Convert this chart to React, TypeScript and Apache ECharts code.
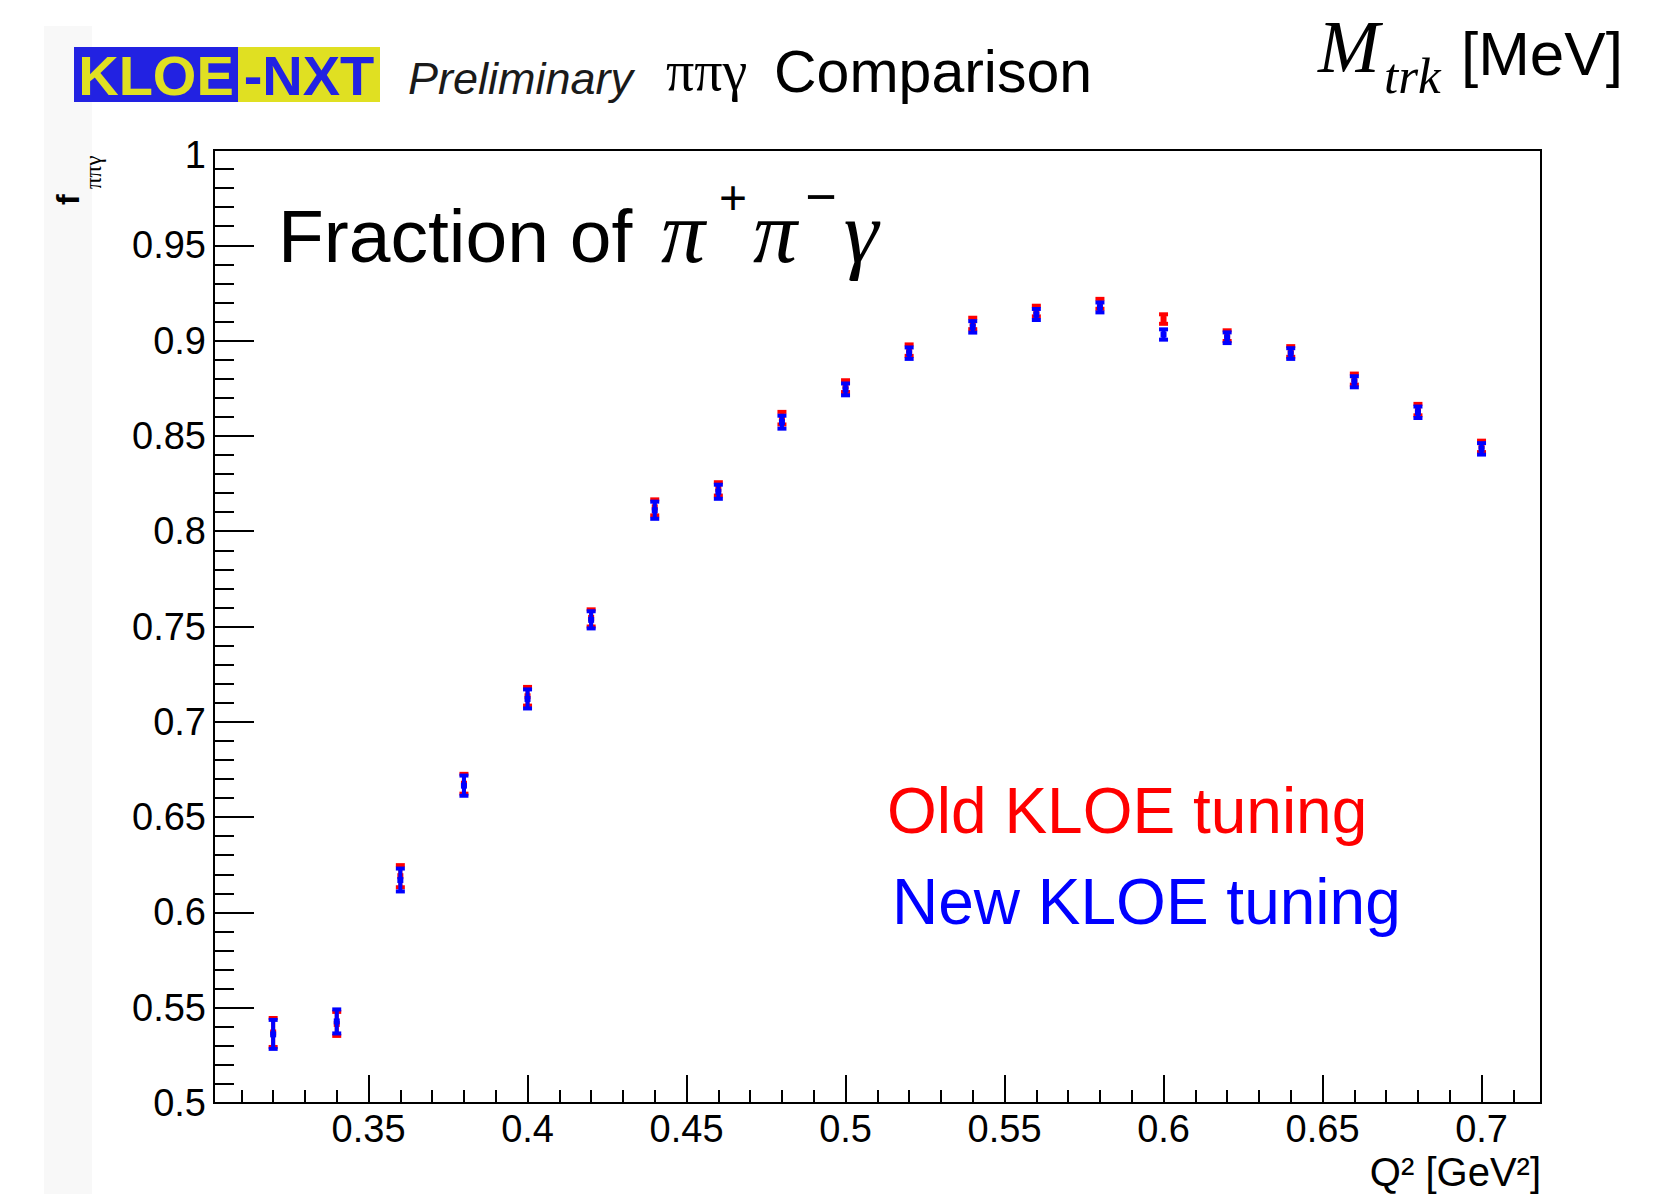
import React, { useEffect, useRef } from "react";
import * as echarts from "echarts";

// ---- data ----
const q2 = [0.32, 0.34, 0.36, 0.38, 0.40, 0.42, 0.44, 0.46, 0.48, 0.50, 0.52, 0.54, 0.56, 0.58, 0.60, 0.62, 0.64, 0.66, 0.68, 0.70];
const oldTuning = [0.537, 0.5415, 0.619, 0.6675, 0.7134, 0.7545, 0.8125, 0.8222, 0.8593, 0.8761, 0.8950, 0.9090, 0.9155, 0.9193, 0.9113, 0.9026, 0.8943, 0.8798, 0.8638, 0.8445];
const oldErr = [0.0076, 0.0063, 0.0058, 0.0052, 0.0049, 0.0045, 0.0042, 0.0035, 0.0033, 0.0031, 0.0030, 0.0030, 0.0028, 0.0026, 0.0025, 0.0028, 0.0028, 0.0029, 0.0030, 0.0030];
const newTuning = [0.536, 0.5428, 0.617, 0.6665, 0.712, 0.7535, 0.811, 0.8207, 0.8572, 0.8744, 0.8934, 0.9072, 0.9137, 0.9174, 0.9032, 0.9015, 0.8932, 0.8784, 0.8624, 0.8432];
const newErr = [0.0076, 0.0063, 0.0060, 0.0053, 0.0050, 0.0045, 0.0045, 0.0037, 0.0034, 0.0031, 0.0030, 0.0030, 0.0029, 0.0026, 0.0027, 0.0028, 0.0028, 0.0029, 0.0030, 0.0030];

const xTicks = [0.35, 0.40, 0.45, 0.50, 0.55, 0.60, 0.65, 0.70];
const xTickLabels = ["0.35", "0.4", "0.45", "0.5", "0.55", "0.6", "0.65", "0.7"];
const xMinorTicks = [0.31, 0.32, 0.33, 0.34, 0.36, 0.37, 0.38, 0.39, 0.41, 0.42, 0.43, 0.44, 0.46, 0.47, 0.48, 0.49, 0.51, 0.52, 0.53, 0.54, 0.56, 0.57, 0.58, 0.59, 0.61, 0.62, 0.63, 0.64, 0.66, 0.67, 0.68, 0.69, 0.71];
const yTicks = [0.5, 0.55, 0.6, 0.65, 0.7, 0.75, 0.8, 0.85, 0.9, 0.95, 1.0];
const yTickLabels = ["0.5", "0.55", "0.6", "0.65", "0.7", "0.75", "0.8", "0.85", "0.9", "0.95", "1"];
const yMinorTicks = [0.51, 0.52, 0.53, 0.54, 0.56, 0.57, 0.58, 0.59, 0.61, 0.62, 0.63, 0.64, 0.66, 0.67, 0.68, 0.69, 0.71, 0.72, 0.73, 0.74, 0.76, 0.77, 0.78, 0.79, 0.81, 0.82, 0.83, 0.84, 0.86, 0.87, 0.88, 0.89, 0.91, 0.92, 0.93, 0.94, 0.96, 0.97, 0.98, 0.99];

const X_MIN = 0.3014;
const X_MAX = 0.7187;
const Y_MIN = 0.5;
const Y_MAX = 1.0;

const SANS = "'Liberation Sans', Arial, Helvetica, sans-serif";
const SERIF = "'Liberation Serif', 'Times New Roman', serif";

function labelFor(ticks: number[], labels: string[], v: number): string {
  const i = ticks.findIndex((t) => Math.abs(t - v) < 1e-7);
  return i >= 0 ? labels[i] : "";
}

function errRenderer(color: string) {
  return (params: any, api: any) => {
    const x = api.value(0);
    const y = api.value(1);
    const e = api.value(2);
    const c = api.coord([x, y]);
    const top = api.coord([x, y + e]);
    const bot = api.coord([x, y - e]);
    const capW = 9;
    const capH = 4;
    const barW = 4;
    const ms = 6;
    return {
      type: "group",
      children: [
        { type: "rect", shape: { x: c[0] - barW / 2, y: top[1], width: barW, height: bot[1] - top[1] }, style: { fill: color } },
        { type: "rect", shape: { x: c[0] - capW / 2, y: top[1] - capH / 2, width: capW, height: capH }, style: { fill: color } },
        { type: "rect", shape: { x: c[0] - capW / 2, y: bot[1] - capH / 2, width: capW, height: capH }, style: { fill: color } },
        { type: "rect", shape: { x: c[0] - ms / 2, y: c[1] - ms / 2, width: ms, height: ms }, style: { fill: color } },
      ],
    };
  };
}

function txt(x: number, y: number, text: string, font: string, fill: string, align = "left", extra: any = {}) {
  return {
    type: "text",
    x,
    y,
    ...extra,
    style: { text, font, fill, align, textAlign: align, verticalAlign: "middle", textVerticalAlign: "middle" },
  };
}

export default function App() {
  const ref = useRef<HTMLDivElement>(null);

  useEffect(() => {
    if (!ref.current) return;
    const chart = echarts.init(ref.current, undefined, { renderer: "svg" });

    const axisLineStyle = { color: "#000", width: 2 };
    const tickLineStyle = { color: "#000", width: 2 };

    const option: any = {
      animation: false,
      backgroundColor: "#ffffff",
      grid: {
        left: 214,
        top: 150,
        width: 1327,
        height: 953,
        show: true,
        borderColor: "#000",
        borderWidth: 2,
        backgroundColor: "transparent",
        containLabel: false,
        outerBoundsMode: "none",
      },
      xAxis: [
        {
          type: "value",
          min: X_MIN,
          max: X_MAX,
          position: "bottom",
          axisLine: { show: true, onZero: false, lineStyle: axisLineStyle },
          axisTick: { show: true, inside: true, length: 28, customValues: xTicks, lineStyle: tickLineStyle },
          axisLabel: {
            show: true,
            customValues: xTicks,
            formatter: (v: number) => labelFor(xTicks, xTickLabels, v),
            fontSize: 38,
            fontFamily: SANS,
            color: "#000",
            margin: 7,
          },
          splitLine: { show: false },
        },
        {
          type: "value",
          min: X_MIN,
          max: X_MAX,
          position: "bottom",
          axisLine: { show: false, onZero: false },
          axisTick: { show: true, inside: true, length: 13, customValues: xMinorTicks, lineStyle: tickLineStyle },
          axisLabel: { show: false },
          splitLine: { show: false },
        },
      ],
      yAxis: [
        {
          type: "value",
          min: Y_MIN,
          max: Y_MAX,
          position: "left",
          axisLine: { show: true, onZero: false, lineStyle: axisLineStyle },
          axisTick: { show: true, inside: true, length: 40, customValues: yTicks, lineStyle: tickLineStyle },
          axisLabel: {
            show: true,
            customValues: yTicks,
            formatter: (v: number) => {
              const s = labelFor(yTicks, yTickLabels, v);
              return Math.abs(v - Y_MAX) < 1e-7 ? `{low|${s}}` : s;
            },
            rich: {
              low: { fontSize: 38, fontFamily: SANS, color: "#000", padding: [9, 0, 0, 0] },
            },
            fontSize: 38,
            fontFamily: SANS,
            color: "#000",
            margin: 8,
          },
          splitLine: { show: false },
        },
        {
          type: "value",
          min: Y_MIN,
          max: Y_MAX,
          position: "left",
          axisLine: { show: false, onZero: false },
          axisTick: { show: true, inside: true, length: 20, customValues: yMinorTicks, lineStyle: tickLineStyle },
          axisLabel: { show: false },
          splitLine: { show: false },
        },
      ],
      series: [
        {
          type: "custom",
          name: "Old KLOE tuning",
          xAxisIndex: 0,
          yAxisIndex: 0,
          renderItem: errRenderer("#ff0000"),
          encode: { x: 0, y: 1 },
          data: q2.map((q, i) => [q, oldTuning[i], oldErr[i]]),
          z: 3,
        },
        {
          type: "custom",
          name: "New KLOE tuning",
          xAxisIndex: 0,
          yAxisIndex: 0,
          renderItem: errRenderer("#0000ff"),
          encode: { x: 0, y: 1 },
          data: q2.map((q, i) => [q, newTuning[i], newErr[i]]),
          z: 4,
        },
      ],
      graphic: [
        { type: "rect", shape: { x: 44, y: 26, width: 48, height: 1168 }, style: { fill: "#f8f8f8" }, z: 0 },
        // logo
        { type: "rect", shape: { x: 74, y: 47, width: 164, height: 55 }, style: { fill: "#2222e2" } },
        { type: "rect", shape: { x: 238, y: 47, width: 142, height: 55 }, style: { fill: "#e0e022" } },
        txt(156, 75, "KLOE", `bold 56px ${SANS}`, "#e0e022", "center"),
        txt(309, 75, "-NXT", `bold 56px ${SANS}`, "#2222e2", "center"),
        txt(408, 78, "Preliminary", `italic 45px ${SANS}`, "#1a1a1a"),
        txt(666, 71, "ππγ", `56px ${SERIF}`, "#000"),
        txt(774, 72, "Comparison", `59px ${SANS}`, "#000"),
        // M_trk [MeV]
        txt(1318, 47, "M", `italic 74px ${SERIF}`, "#000"),
        txt(1384, 76, "trk", `italic 51px ${SERIF}`, "#000"),
        txt(1461, 53, "[MeV]", `62px ${SANS}`, "#000"),
        // y-axis title
        txt(68, 205, "f", `bold 32px ${SANS}`, "#000", "left", { rotation: Math.PI / 2 }),
        txt(93, 189, "ππγ", `23px ${SERIF}`, "#000", "left", { rotation: Math.PI / 2 }),
        // x-axis title
        txt(1541, 1172, "Q² [GeV²]", `40px ${SANS}`, "#000", "right"),
        // in-plot title
        txt(278, 236, "Fraction of", `75px ${SANS}`, "#000"),
        txt(683, 232, "π", `italic 88px ${SERIF}`, "#000", "center"),
        txt(733, 197, "+", `48px ${SANS}`, "#000", "center"),
        txt(775, 232, "π", `italic 88px ${SERIF}`, "#000", "center"),
        txt(821, 196, "−", `54px ${SANS}`, "#000", "center"),
        txt(861, 232, "γ", `italic 88px ${SERIF}`, "#000", "center"),
        // legend
        txt(887, 811, "Old KLOE tuning", `64px ${SANS}`, "#ff0000"),
        txt(892, 902, "New KLOE tuning", `64px ${SANS}`, "#0000ff"),
      ],
    };

    chart.setOption(option);
    return () => chart.dispose();
  }, []);

  return (
    <div
      ref={ref}
      style={{ position: "absolute", left: 0, top: 0, width: 1665, height: 1194, background: "#fff" }}
    />
  );
}
